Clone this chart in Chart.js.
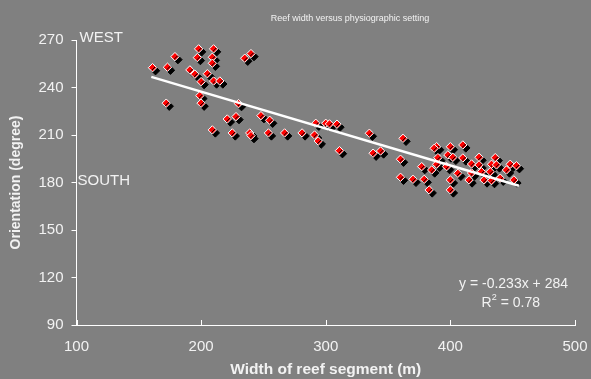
<!DOCTYPE html>
<html>
<head>
<meta charset="utf-8">
<script src="https://cdn.jsdelivr.net/npm/chart.js@4.4.0/dist/chart.umd.min.js"></script>
<style>
  html, body { margin: 0; padding: 0; background: #808080; }
  #wrap { width: 591px; height: 379px; position: relative; }
</style>
</head>
<body>
<div id="wrap"><canvas id="reefChart" width="591" height="379"></canvas></div>
<script>
// reef segment widths (m)
var widths = [
  161, 173, 179, 198, 197, 210, 209, 209, 235, 240,
  191, 195, 205, 200, 210, 215, 199, 200, 172, 230,
  221, 228, 248, 255, 209, 225, 239, 240, 254, 267,
  281, 291, 294, 292, 300, 303, 309, 311,
  335, 362, 338, 344, 360, 389, 400, 410, 387, 398,
  390, 402, 410, 423, 436, 377, 389, 397, 385, 417,
  423, 433, 437, 448, 453, 406, 417, 425, 432, 445,
  360, 370, 379, 400, 415, 427, 433, 440, 451, 383, 400
];
// orientation (degree)
var orientations = [
  252.5, 252.8, 259.5, 264.4, 258.9, 264.4, 259.1, 255.3, 258.5, 261.4,
  251.1, 248.4, 248.7, 243.7, 244.1, 244.1, 234.9, 230.1, 230.1, 229.8,
  220.1, 221.6, 222.2, 219.3, 213.2, 211.3, 211.3, 209.6, 211.3, 211.3,
  211.3, 210, 206.2, 217.4, 217.4, 217, 216.8, 200.1,
  211.1, 207.9, 198.5, 199.9, 194.7, 202.6, 202.6, 203.7, 201.6, 197.4,
  195.7, 195.9, 195.5, 195.9, 195.7, 190, 191.5, 190, 187.9, 191.7,
  191.1, 191.5, 191.1, 191.5, 190.6, 185.8, 186, 186.8, 186.8, 187.9,
  183.3, 182, 182, 181.6, 181.6, 181.6, 181.2, 182.7, 181.6, 175.3, 175.3
];
var fitSlope = -0.233;
var fitIntercept = 284;
var fitRange = [160, 455];
var xTicks = [100, 200, 300, 400, 500];
var yTicks = [90, 120, 150, 180, 210, 240, 270];

var points = widths.map(function(w, i){ return {x: w, y: orientations[i]}; });
var fitLine = fitRange.map(function(x){ return {x: x, y: fitSlope * x + fitIntercept}; });

var txt = "#f2f2f2";

var markerShadow = {
  id: 'markerShadow',
  beforeDatasetDraw: function(chart, args){
    if (args.index !== 1) return;
    var ctx = chart.ctx;
    ctx.save();
    ctx.shadowColor = "#000";
    ctx.shadowOffsetX = 3;
    ctx.shadowOffsetY = 3;
    ctx.shadowBlur = 0;
  },
  afterDatasetDraw: function(chart, args){
    if (args.index !== 1) return;
    chart.ctx.restore();
  }
};

var extras = {
  id: 'extras',
  afterDraw: function(chart){
    var ctx = chart.ctx;
    var xs = chart.scales.x, ys = chart.scales.y;
    var a = chart.chartArea;
    ctx.save();
    // inward tick marks on x axis
    ctx.strokeStyle = "#fff";
    ctx.lineWidth = 1;
    xTicks.forEach(function(v){
      var px = Math.round(xs.getPixelForValue(v)) + 0.5;
      ctx.beginPath();
      ctx.moveTo(px, a.bottom);
      ctx.lineTo(px, a.bottom - 5);
      ctx.stroke();
    });
    ctx.fillStyle = txt;
    ctx.font = "9px 'Liberation Sans', Arial, sans-serif";
    ctx.textAlign = "center";
    ctx.textBaseline = "middle";
    ctx.fillText("Reef width versus physiographic setting", 350, 19);

    ctx.font = "15px 'Liberation Sans', Arial, sans-serif";
    ctx.textAlign = "left";
    ctx.fillText("WEST", a.left + 3, ys.getPixelForValue(270) - 2);
    ctx.fillText("SOUTH", a.left + 1, ys.getPixelForValue(180) - 2);

    ctx.font = "14px 'Liberation Sans', Arial, sans-serif";
    ctx.textAlign = "right";
    ctx.fillText("y = -0.233x + 284", 568, 284);
    ctx.fillText("= 0.78", 540, 303);
    var w = ctx.measureText("= 0.78").width;
    ctx.fillText("R", 540 - w - 9, 303);
    ctx.font = "9px 'Liberation Sans', Arial, sans-serif";
    ctx.textAlign = "left";
    ctx.fillText("2", 540 - w - 9, 298);
    ctx.restore();
  }
};

var ctx = document.getElementById("reefChart").getContext('2d');
var config = {
  type: 'scatter',
  data: {
    datasets: [{
      type: 'line',
      data: fitLine,
      borderColor: '#ffffff',
      borderWidth: 2.5,
      pointRadius: 0,
      fill: false
    }, {
      data: points,
      pointStyle: 'rectRot',
      pointRadius: 4.2,
      backgroundColor: '#ff0000',
      borderColor: '#ffffff',
      borderWidth: 1
    }]
  },
  options: {
    responsive: false,
    animation: false,
    events: [],
    layout: { padding: { top: 40, right: 16, left: 0, bottom: 0 } },
    plugins: {
      legend: { display: false },
      tooltip: { enabled: false },
      title: { display: false }
    },
    scales: {
      x: {
        type: 'linear',
        min: 100, max: 500,
        afterBuildTicks: function(s){ s.ticks = xTicks.map(function(v){ return {value: v}; }); },
        afterFit: function(s){ s.height = 54; s.paddingLeft = 0; s.paddingRight = 0; },
        grid: { display: true, drawOnChartArea: false, drawTicks: false, color: '#fff' },
        border: { color: '#fff', width: 1 },
        ticks: { color: txt, padding: 13, font: { size: 15, family: "'Liberation Sans', Arial, sans-serif" }, maxRotation: 0 },
        title: {
          display: true, text: 'Width of reef segment (m)', color: txt, padding: { top: 0, bottom: 0 },
          font: { size: 15.5, weight: 'bold', family: "'Liberation Sans', Arial, sans-serif" }
        }
      },
      y: {
        type: 'linear',
        min: 90, max: 270,
        afterBuildTicks: function(s){ s.ticks = yTicks.map(function(v){ return {value: v}; }); },
        afterFit: function(s){ s.width = 76.5; s.paddingTop = 0; s.paddingBottom = 0; },
        grid: { display: true, drawOnChartArea: false, drawTicks: true, tickLength: 5, tickColor: '#fff', color: '#fff' },
        border: { color: '#fff', width: 1 },
        ticks: { color: txt, padding: 8, font: { size: 15, family: "'Liberation Sans', Arial, sans-serif" } },
        title: {
          display: true, text: 'Orientation (degree)', color: txt, padding: { top: 8, bottom: 4 },
          font: { size: 14, weight: 'bold', family: "'Liberation Sans', Arial, sans-serif" }
        }
      }
    }
  },
  plugins: [markerShadow, extras]
};
var chart = new Chart(ctx, config);
</script>
</body>
</html>
